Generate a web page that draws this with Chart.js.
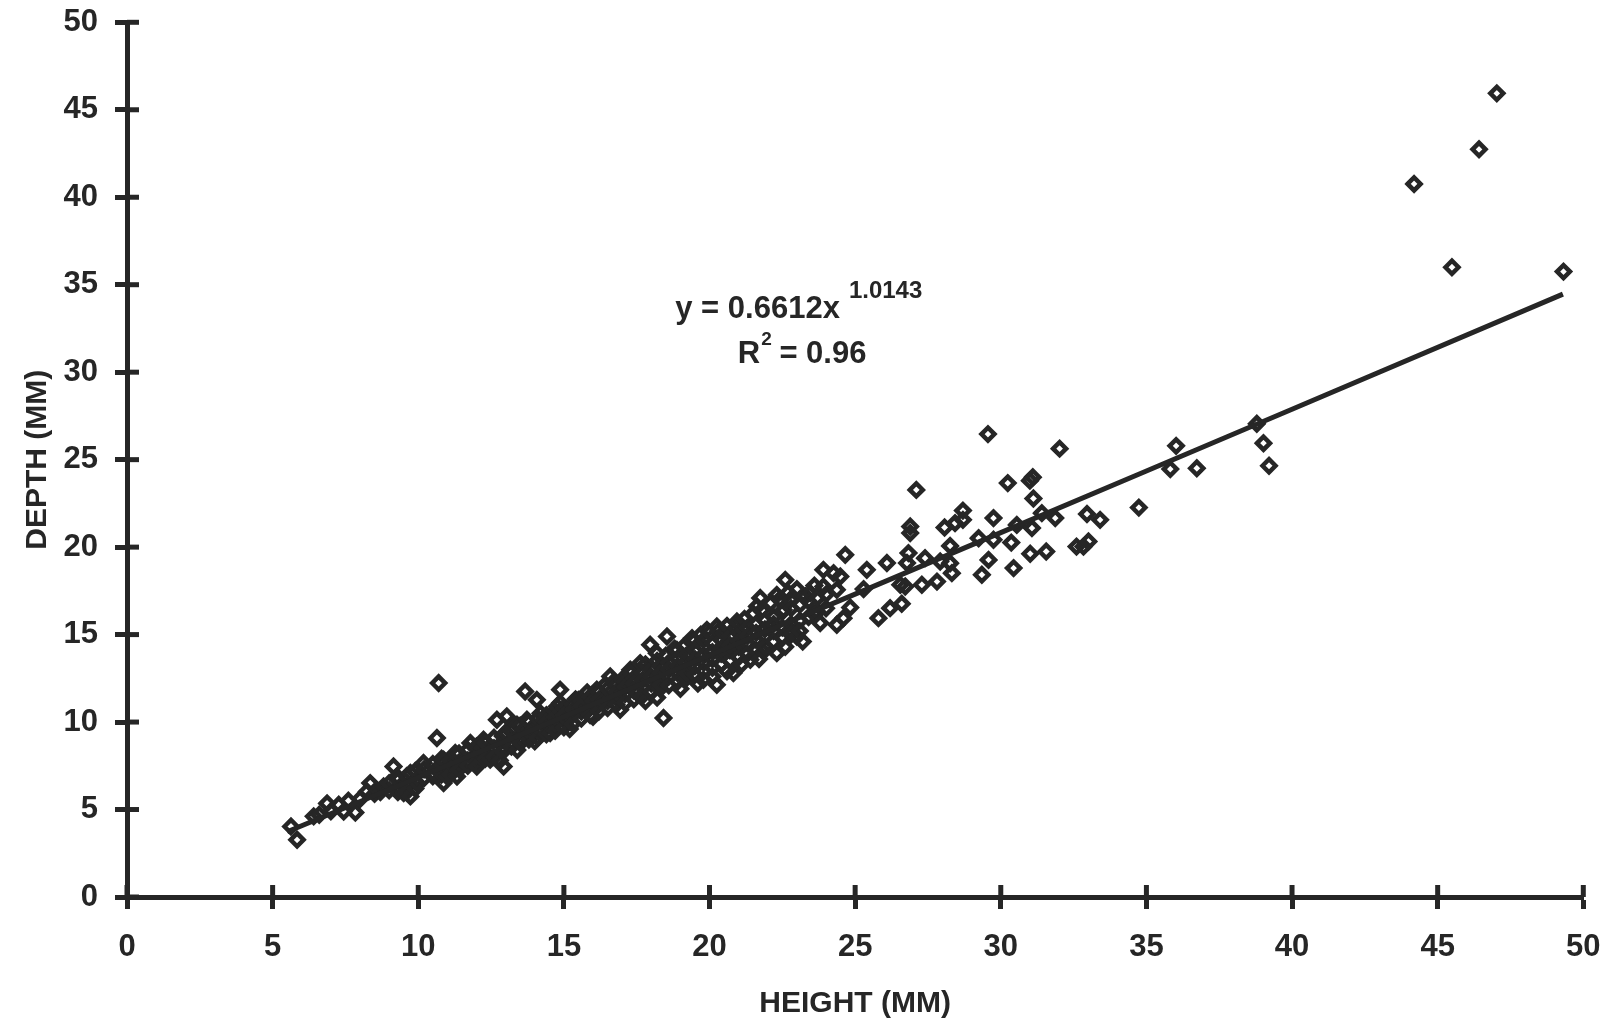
<!DOCTYPE html>
<html>
<head>
<meta charset="utf-8">
<script src="https://cdn.jsdelivr.net/npm/chart.js@4/dist/chart.umd.min.js"></script>
<style>
  html, body { margin: 0; padding: 0; background: #fff; }
  #wrap { width: 1608px; height: 1024px; }
</style>
</head>
<body>
<div id="wrap"><canvas id="chart"></canvas></div>
<script>
const smallShells = [
  [5.63, 4.03], [5.84, 3.27], [6.41, 4.61], [6.6, 4.7], [6.87, 5.35], [7.0, 4.9],
  [7.27, 5.27], [7.6, 5.5], [7.84, 4.83], [7.44, 4.89], [8.0, 5.6], [8.24, 6.03],
  [8.35, 6.51], [8.5, 5.9], [8.7, 6.0], [8.81, 6.32], [9.0, 6.1], [9.0, 6.5],
  [9.15, 7.46], [9.27, 6.89], [9.3, 6.0], [9.3, 6.7], [9.5, 5.94], [9.61, 6.32],
  [9.6, 6.9], [9.6, 6.0], [9.73, 7.09], [9.73, 5.75], [9.9, 6.6], [9.9, 7.2],
  [9.9, 6.2], [9.96, 6.51]
];

const midShells = [
  [10.18, 7.66], [10.2, 6.8], [10.2, 7.3], [10.5, 6.9], [10.5, 7.6], [10.5, 7.1],
  [10.64, 9.09], [10.7, 12.23], [10.8, 7.0], [10.8, 7.6], [10.8, 7.9], [10.87, 7.85],
  [10.87, 6.51], [10.99, 6.89], [11.1, 7.3], [11.1, 7.8], [11.1, 7.0], [11.21, 7.46],
  [11.27, 8.23], [11.33, 6.89], [11.4, 7.6], [11.4, 8.2], [11.4, 7.3], [11.7, 7.8],
  [11.7, 8.4], [11.7, 7.5], [11.79, 8.8], [12.0, 8.0], [12.0, 8.6], [12.0, 7.7],
  [12.01, 7.46], [12.13, 8.23], [12.2, 8.5], [12.24, 8.99], [12.3, 8.2], [12.3, 8.8],
  [12.3, 7.9], [12.47, 7.85], [12.6, 8.5], [12.6, 9.1], [12.6, 8.0], [12.7, 10.13],
  [12.8, 7.8], [12.9, 8.6], [12.9, 9.2], [12.9, 8.3], [12.93, 7.46], [13.0, 9.4],
  [13.04, 10.32], [13.2, 8.9], [13.2, 9.5], [13.2, 8.6], [13.39, 9.85], [13.4, 8.4],
  [13.5, 9.1], [13.5, 9.8], [13.5, 8.8], [13.6, 9.6], [13.67, 11.75], [13.73, 10.13],
  [13.8, 9.3], [13.8, 10.0], [13.8, 9.0], [13.84, 9.37], [14.0, 8.9], [14.07, 11.27],
  [14.1, 9.5], [14.1, 10.2], [14.1, 9.1], [14.19, 9.56], [14.2, 10.5], [14.3, 10.13],
  [14.4, 9.7], [14.4, 10.4], [14.4, 9.3], [14.4, 10.0], [14.53, 9.37], [14.7, 9.9],
  [14.7, 10.6], [14.7, 9.5], [14.7, 10.3], [14.76, 10.89], [14.87, 11.85], [14.87, 11.09],
  [14.9, 10.6], [15.0, 10.1], [15.0, 10.8], [15.0, 9.7], [15.0, 10.4], [15.1, 10.13],
  [15.2, 9.6], [15.3, 10.4], [15.3, 11.0], [15.3, 9.9], [15.33, 10.7], [15.4, 11.3],
  [15.5, 11.27], [15.6, 10.6], [15.6, 11.2], [15.6, 10.2], [15.6, 10.9], [15.8, 11.7],
  [15.9, 10.8], [15.9, 11.4], [15.9, 10.4], [15.9, 11.46], [16.0, 11.2], [16.0, 10.3],
  [16.13, 11.85], [16.2, 11.0], [16.2, 11.7], [16.2, 10.6], [16.2, 11.3], [16.36, 11.18],
  [16.4, 12.1], [16.5, 11.2], [16.5, 11.9], [16.5, 10.8], [16.59, 12.61], [16.7, 12.3],
  [16.8, 11.4], [16.8, 12.1], [16.8, 11.0], [16.8, 11.7], [16.93, 10.7], [16.99, 12.42]
];

const bandShells = [
  [17.1, 11.6], [17.1, 12.3], [17.1, 11.1], [17.1, 12.0], [17.28, 12.99], [17.3, 12.8],
  [17.4, 11.8], [17.4, 12.5], [17.4, 11.3], [17.4, 12.2], [17.51, 11.66], [17.62, 13.37],
  [17.7, 12.0], [17.7, 12.8], [17.7, 11.5], [17.7, 12.4], [17.8, 13.3], [17.8, 11.2],
  [17.96, 14.42], [18.0, 12.2], [18.0, 13.0], [18.0, 11.7], [18.0, 12.6], [18.19, 13.94],
  [18.2, 13.5], [18.2, 11.4], [18.3, 12.4], [18.3, 13.2], [18.3, 11.9], [18.3, 12.8],
  [18.31, 12.13], [18.42, 10.23], [18.5, 13.8], [18.54, 14.89], [18.6, 12.6], [18.6, 13.4],
  [18.6, 12.1], [18.6, 13.0], [18.8, 14.2], [18.88, 14.13], [18.9, 12.8], [18.9, 13.6],
  [18.9, 12.3], [18.9, 13.2], [19.0, 11.9], [19.1, 14.3], [19.2, 13.0], [19.2, 13.8],
  [19.2, 12.5], [19.2, 13.4], [19.22, 12.8], [19.34, 13.75], [19.4, 14.8], [19.45, 14.61],
  [19.5, 13.2], [19.5, 14.1], [19.5, 12.7], [19.5, 13.6], [19.6, 12.2], [19.7, 15.0],
  [19.79, 12.42], [19.8, 13.4], [19.8, 14.3], [19.8, 12.9], [19.8, 13.8], [19.8, 14.7],
  [19.91, 15.27], [20.0, 15.1], [20.1, 13.6], [20.1, 14.5], [20.1, 13.1], [20.1, 14.0],
  [20.1, 12.6], [20.25, 12.13], [20.25, 15.46], [20.3, 15.2], [20.4, 13.9], [20.4, 14.7],
  [20.4, 13.3], [20.4, 14.2], [20.48, 15.09], [20.6, 15.5], [20.6, 12.9], [20.7, 14.1],
  [20.7, 14.9], [20.7, 13.5], [20.7, 14.4], [20.82, 12.8], [20.9, 15.4], [20.94, 15.75],
  [21.0, 14.3], [21.0, 15.1], [21.0, 13.7], [21.0, 14.6], [21.1, 13.3], [21.17, 15.27],
  [21.2, 15.9], [21.3, 14.5], [21.3, 15.4], [21.3, 13.9], [21.3, 14.9], [21.4, 13.56],
  [21.5, 16.2], [21.6, 14.7], [21.6, 15.6], [21.6, 14.1], [21.6, 15.1], [21.63, 16.61],
  [21.7, 13.6], [21.74, 17.09], [21.8, 16.4], [21.85, 14.03], [21.9, 14.9], [21.9, 15.8],
  [21.9, 14.3], [21.9, 15.3], [22.08, 15.46], [22.1, 16.8], [22.2, 15.2], [22.2, 16.0],
  [22.2, 14.6], [22.2, 15.6], [22.31, 17.27], [22.31, 13.94], [22.4, 17.0], [22.5, 15.4],
  [22.5, 16.3], [22.5, 14.8], [22.54, 16.42], [22.6, 18.13], [22.6, 14.3], [22.7, 17.4],
  [22.77, 16.99], [22.77, 15.27], [22.8, 15.6], [22.8, 16.5], [22.8, 15.0], [23.0, 14.89],
  [23.0, 17.6], [23.1, 15.8], [23.1, 16.7], [23.1, 15.2], [23.2, 14.6], [23.3, 17.2],
  [23.4, 16.0], [23.4, 16.9], [23.46, 17.37], [23.57, 16.23], [23.6, 17.8], [23.7, 16.3],
  [23.7, 17.1], [23.8, 15.66], [23.91, 18.7], [23.91, 17.75], [24.0, 16.5], [24.0, 17.3]
];

const largeShells = [
  [24.26, 18.51], [24.37, 17.56], [24.37, 15.56], [24.49, 18.32], [24.6, 15.94], [24.66, 19.56],
  [24.83, 16.55], [25.29, 17.6], [25.4, 18.7], [25.8, 15.94], [26.09, 19.09], [26.2, 16.51],
  [26.55, 17.85], [26.6, 16.76], [26.72, 17.75], [26.78, 19.09], [26.83, 19.66], [26.89, 21.18],
  [26.89, 20.8], [27.1, 23.27], [27.29, 17.85], [27.4, 19.37], [27.81, 18.03], [27.92, 19.18],
  [28.07, 21.12], [28.26, 20.07], [28.26, 19.08], [28.32, 18.51], [28.43, 21.37], [28.7, 22.09],
  [28.7, 21.56], [29.24, 20.51], [29.35, 18.42], [29.56, 26.46], [29.58, 19.27], [29.75, 21.66],
  [29.75, 20.42], [30.24, 23.66], [30.36, 20.26], [30.44, 18.8], [30.55, 21.27], [31.0, 23.8],
  [31.01, 19.62], [31.07, 21.09], [31.1, 24.0], [31.12, 22.78], [31.41, 21.94], [31.56, 19.75],
  [31.87, 21.66], [32.02, 25.63], [32.6, 20.03], [32.84, 20.03], [32.96, 21.89], [33.01, 20.32],
  [33.41, 21.56], [34.74, 22.26]
];

const outlierShells = [
  [35.82, 24.46], [36.02, 25.79], [36.73, 24.51], [38.79, 27.05], [39.02, 25.94], [39.21, 24.65],
  [44.19, 40.76], [45.49, 36.0], [46.42, 42.74], [47.03, 45.94], [49.32, 35.75]
];

// power trend line (y = 0.6612x^1.0143)
const fitHeight = [5.5, 10, 15, 20, 25, 30, 35, 40, 49.3];
const fitDepth = [3.73, 6.83, 10.31, 13.82, 17.31, 20.83, 24.35, 27.88, 34.46];

const xTicks = [0, 5, 10, 15, 20, 25, 30, 35, 40, 45, 50];
const yTicks = [0, 5, 10, 15, 20, 25, 30, 35, 40, 45, 50];

const ink = '#262626';
const fontFamily = '"Liberation Sans", Arial, Helvetica, sans-serif';

// where the equation sits, in data units
const eqAnchor = { x: 21.65, y: 33.56 };
const r2Anchor = { x: 23.18, y: 30.99 };

let allShells = smallShells.concat(midShells, bandShells, largeShells, outlierShells);
let shellPoints = allShells.map(p => ({ x: p[0], y: p[1] }));
let fitPoints = fitHeight.map((h, i) => ({ x: h, y: fitDepth[i] }));

// ticks cross the axis: draw the inner half of each tick
const innerTicks = {
  id: 'innerTicks',
  afterDatasetsDraw(chart) {
    const ctx = chart.ctx;
    const xs = chart.scales.x, ys = chart.scales.y;
    const len = 12;
    ctx.save();
    ctx.strokeStyle = ink;
    ctx.lineWidth = 5;
    ctx.lineCap = 'butt';
    for (const t of xs.ticks) {
      const px = xs.getPixelForValue(t.value);
      ctx.beginPath();
      ctx.moveTo(px, ys.bottom);
      ctx.lineTo(px, ys.bottom - len);
      ctx.stroke();
    }
    for (const t of ys.ticks) {
      const py = ys.getPixelForValue(t.value);
      ctx.beginPath();
      ctx.moveTo(xs.left, py);
      ctx.lineTo(xs.left + len, py);
      ctx.stroke();
    }
    ctx.restore();
  }
};

// equation and R squared
const equation = {
  id: 'equation',
  afterDatasetsDraw(chart) {
    const ctx = chart.ctx;
    const xs = chart.scales.x, ys = chart.scales.y;
    ctx.save();
    ctx.fillStyle = ink;
    ctx.textBaseline = 'middle';

    const main = 'y = 0.6612x';
    const sup = '1.0143';
    ctx.font = 'bold 31px ' + fontFamily;
    const mx = xs.getPixelForValue(eqAnchor.x);
    const my = ys.getPixelForValue(eqAnchor.y);
    ctx.textAlign = 'center';
    ctx.fillText(main, mx, my);
    const mw = ctx.measureText(main).width;
    ctx.textAlign = 'left';
    ctx.font = 'bold 24px ' + fontFamily;
    ctx.fillText(sup, mx + mw / 2 + 9, my - 19);

    const rx = xs.getPixelForValue(r2Anchor.x);
    const ry = ys.getPixelForValue(r2Anchor.y);
    ctx.font = 'bold 31px ' + fontFamily;
    const rw = ctx.measureText('R').width;
    const rest = ' = 0.96';
    const restW = ctx.measureText(rest).width;
    ctx.font = 'bold 19px ' + fontFamily;
    const sw = ctx.measureText('2').width;
    const total = rw + sw + restW;
    let x0 = rx - total / 2;
    ctx.font = 'bold 31px ' + fontFamily;
    ctx.fillText('R', x0, ry);
    ctx.font = 'bold 19px ' + fontFamily;
    ctx.fillText('2', x0 + rw + 1, ry - 15);
    ctx.font = 'bold 31px ' + fontFamily;
    ctx.fillText(rest, x0 + rw + sw, ry);
    ctx.restore();
  }
};

// keep the plot box fixed: drop the label overhang padding Chart.js adds
function pinScale(scale, side) {
  if (side === 'x') scale.height = 127;
  else scale.width = 127;
  scale.paddingLeft = 0;
  scale.paddingRight = 0;
  scale.paddingTop = 0;
  scale.paddingBottom = 0;
}

const tickFont = { family: fontFamily, size: 31, weight: 'bold' };
const titleFont = { family: fontFamily, size: 30, weight: 'bold' };

new Chart(document.getElementById('chart'), {
  type: 'scatter',
  data: {
    datasets: [
      {
        label: 'shells',
        data: shellPoints,
        pointStyle: 'rectRot',
        pointRadius: 6.5,
        pointHoverRadius: 6.5,
        borderWidth: 4.5,
        borderColor: ink,
        backgroundColor: 'rgba(0,0,0,0)',
        order: 2
      },
      {
        label: 'fit',
        type: 'line',
        data: fitPoints,
        showLine: true,
        pointRadius: 0,
        borderWidth: 5,
        borderColor: ink,
        tension: 0,
        fill: false,
        order: 1
      }
    ]
  },
  options: {
    responsive: true,
    maintainAspectRatio: false,
    animation: false,
    devicePixelRatio: 1,
    layout: { padding: { left: 0, right: 24.7, top: 22.3, bottom: 0 } },
    plugins: {
      legend: { display: false },
      tooltip: { enabled: false }
    },
    scales: {
      x: {
        type: 'linear',
        min: 0,
        max: 50,
        afterBuildTicks(scale) { scale.ticks = xTicks.map(v => ({ value: v })); },
        afterFit(scale) { pinScale(scale, 'x'); },
        ticks: { font: tickFont, color: ink, padding: 20, maxRotation: 0 },
        grid: { drawOnChartArea: false, tickLength: 12, tickWidth: 5, tickColor: ink },
        border: { display: true, width: 5, color: ink },
        title: { display: true, text: 'HEIGHT (MM)', font: titleFont, color: ink, padding: { top: 0, bottom: 2 } }
      },
      y: {
        type: 'linear',
        min: 0,
        max: 50,
        afterBuildTicks(scale) { scale.ticks = yTicks.map(v => ({ value: v })); },
        afterFit(scale) { pinScale(scale, 'y'); },
        ticks: { font: tickFont, color: ink, padding: 17 },
        grid: { drawOnChartArea: false, tickLength: 12, tickWidth: 5, tickColor: ink },
        border: { display: true, width: 5, color: ink },
        title: { display: true, text: 'DEPTH (MM)', font: titleFont, color: ink, padding: { top: 20, bottom: 0 } }
      }
    }
  },
  plugins: [innerTicks, equation]
});
</script>
</body>
</html>
